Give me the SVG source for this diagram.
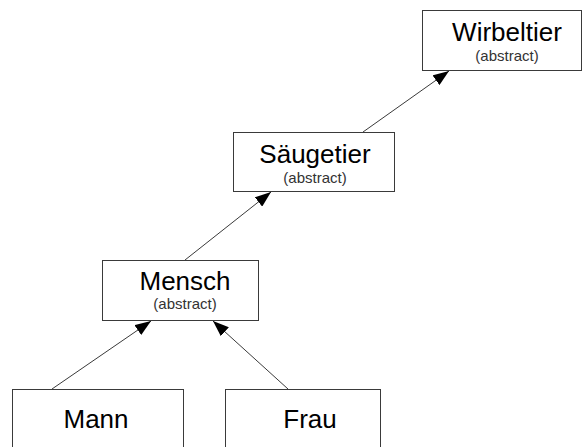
<svg xmlns="http://www.w3.org/2000/svg" width="584" height="447" viewBox="0 0 584 447">
<style>
.box{fill:#fff;stroke:#3a3a3a;stroke-width:1}
.t{font-family:"Liberation Sans",Arial,sans-serif;font-size:26px;fill:#000;text-anchor:middle}
.s{font-family:"Liberation Sans",Arial,sans-serif;font-size:15px;fill:#333;text-anchor:middle}
.c{stroke:#3a3a3a;stroke-width:1;fill:none;marker-end:url(#ah)}
</style>
<defs>
<marker id="ah" markerWidth="16" markerHeight="12" refX="16" refY="6" orient="auto" markerUnits="userSpaceOnUse">
<path d="M0,0 L16,6 L0,12 Z" fill="#000"/>
</marker>
</defs>
<rect width="584" height="447" fill="#fff"/>
<g id="connectors">
<line class="c" x1="363" y1="132" x2="449" y2="71"/>
<line class="c" x1="185" y1="260" x2="271" y2="192"/>
<line class="c" x1="52" y1="389" x2="151" y2="321"/>
<line class="c" x1="288" y1="389" x2="213" y2="321"/>
</g>
<g id="wirbeltier">
<rect class="box" x="422.5" y="10.5" width="159" height="60"/>
<text class="t" x="507" y="41">Wirbeltier</text>
<text class="s" x="507" y="61">(abstract)</text>
</g>
<g id="saeugetier">
<rect class="box" x="233.5" y="132.5" width="161" height="59"/>
<text class="t" x="315" y="163">Säugetier</text>
<text class="s" x="315" y="183">(abstract)</text>
</g>
<g id="mensch">
<rect class="box" x="102.5" y="260.5" width="156" height="60"/>
<text class="t" x="185" y="290">Mensch</text>
<text class="s" x="185" y="309">(abstract)</text>
</g>
<g id="mann">
<rect class="box" x="12.5" y="389.5" width="171" height="70"/>
<text class="t" x="96" y="428">Mann</text>
</g>
<g id="frau">
<rect class="box" x="225.5" y="389.5" width="155" height="70"/>
<text class="t" x="310" y="428">Frau</text>
</g>
</svg>
